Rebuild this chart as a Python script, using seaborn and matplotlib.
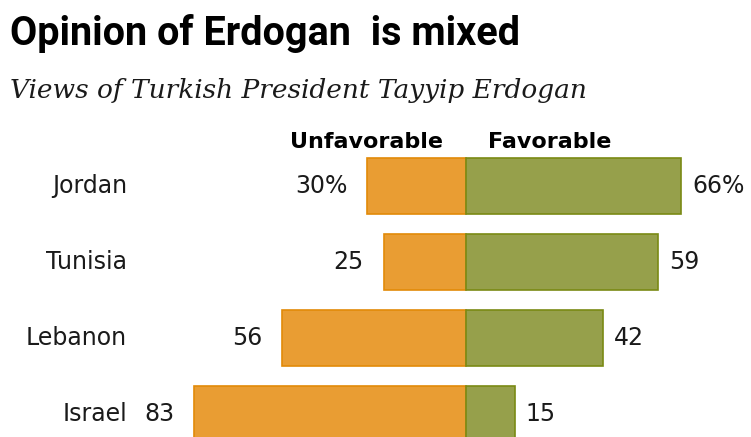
import matplotlib
matplotlib.use("Agg")
import matplotlib.pyplot as plt
import seaborn as sns
import pandas as pd

countries = ["Jordan", "Tunisia", "Lebanon", "Israel"]
unfavorable = [30, 25, 56, 83]
favorable = [66, 59, 42, 15]

ORANGE = "#E99D33"
ORANGE_EDGE = "#E28A08"
GREEN = "#96A04B"
GREEN_EDGE = "#7A8A14"
TEXT = "#1a1a1a"

sns.set_theme(style="white")
plt.rcParams["font.family"] = ["DejaVu Sans"]

W, H = 751, 437
fig = plt.figure(figsize=(W / 100, H / 100), dpi=100)
ax = fig.add_axes([0, 0, 1, 1])

df = pd.DataFrame({
    "country": countries,
    "unfav": [-v for v in unfavorable],
    "fav": favorable,
})

sns.barplot(data=df, x="unfav", y="country", orient="h", color=ORANGE,
            saturation=1, width=0.74, edgecolor=ORANGE_EDGE, linewidth=1.2, ax=ax)
sns.barplot(data=df, x="fav", y="country", orient="h", color=GREEN,
            saturation=1, width=0.74, edgecolor=GREEN_EDGE, linewidth=1.2, ax=ax)

# horizontal scale: zero line at x=465.5 px, 3.27 px per percentage point
center_px, ppp = 465.5, 3.27
ax.set_xlim(-center_px / ppp, (W - center_px) / ppp)
# vertical: first row centred at 186 px, rows 76 px apart
ax.set_ylim((H - 186) / 76, -186 / 76)
ax.axis("off")

label_font = dict(fontsize=17, color=TEXT)
for i, (c, u, f) in enumerate(zip(countries, unfavorable, favorable)):
    suffix = "%" if i == 0 else ""
    ax.text(-u - 20 / ppp, i, f"{u}{suffix}", ha="right", va="center", **label_font)
    ax.text(f + 11 / ppp, i, f"{f}{suffix}", ha="left", va="center", **label_font)
    ax.text(127 / W, i, c, transform=ax.get_yaxis_transform(),
            ha="right", va="center", **label_font)

def fx(px):
    return px / W

def fy(py):
    return 1 - py / H

fig.text(fx(10), fy(45), "Opinion of Erdogan  is mixed", ha="left", va="baseline",
         fontsize=28.5, fontweight="bold", fontstretch="condensed", color="black",
         family=["Roboto", "Liberation Sans", "DejaVu Sans"])
fig.text(fx(10), fy(98), "Views of Turkish President Tayyip Erdogan", ha="left",
         va="baseline", fontsize=19, style="italic", color=TEXT,
         family=["DejaVu Serif", "Liberation Serif"])
fig.text(fx(443), fy(148), "Unfavorable", ha="right", va="baseline",
         fontsize=16, fontweight="bold", color="black")
fig.text(fx(488), fy(148), "Favorable", ha="left", va="baseline",
         fontsize=16, fontweight="bold", color="black")

fig.savefig("out.png", dpi=100)
